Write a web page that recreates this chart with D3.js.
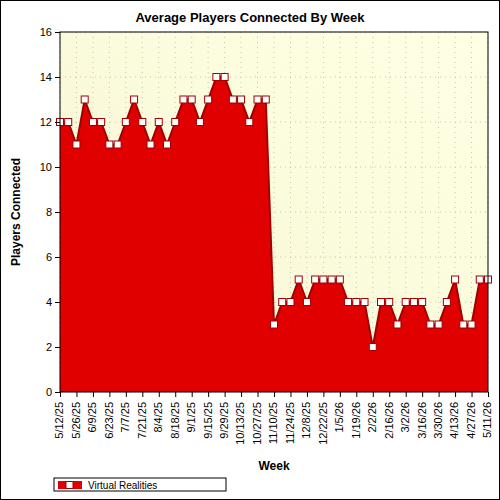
<!DOCTYPE html>
<html><head><meta charset="utf-8"><script src="https://cdn.jsdelivr.net/npm/d3@7"></script>
<style>body{margin:0;background:#fff}</style></head><body>
<script>
const startDate = "2025-05-12";
const values = [12,12,11,13,12,12,11,11,12,13,12,11,12,11,12,13,13,12,13,14,14,13,13,12,13,13,
3,4,4,5,4,5,5,5,5,4,4,4,2,4,4,3,4,4,4,3,3,4,5,3,3,5,5];
const yTicks = [0,2,4,6,8,10,12,14,16];
const seriesName = "Virtual Realities";
const W=500,H=500,m={l:60,r:12,t:32,b:108};
const svg=d3.select("body").append("svg").attr("width",W).attr("height",H).style("font-family","Liberation Sans, Arial, sans-serif");
svg.append("rect").attr("x",0.5).attr("y",0.5).attr("width",W-1).attr("height",H-1).attr("fill","#fff").attr("stroke","#000");
const defs=svg.append("defs");
const g0=defs.append("linearGradient").attr("id","bg").attr("x1","0").attr("y1","1").attr("x2","1").attr("y2","0");
g0.append("stop").attr("offset","0").attr("stop-color","#f6f6d4");
g0.append("stop").attr("offset","1").attr("stop-color","#ffffe4");
const s0=new Date(startDate+"T00:00:00");
const dates=values.map((v,i)=>new Date(s0.getTime()+i*7*864e5));
const x=d3.scaleLinear().domain([0,values.length-1]).range([m.l,W-m.r]);
const y=d3.scaleLinear().domain([0,16]).range([H-m.b,m.t]);
svg.append("rect").attr("x",m.l).attr("y",m.t).attr("width",W-m.l-m.r).attr("height",H-m.t-m.b).attr("fill","url(#bg)");
const grid=svg.append("g").attr("stroke","#c8c8b0").attr("stroke-dasharray","1,4");
yTicks.forEach(t=>grid.append("line").attr("x1",m.l).attr("x2",W-m.r).attr("y1",y(t)).attr("y2",y(t)));
values.forEach((v,i)=>{if(i%2==0)grid.append("line").attr("x1",x(i)).attr("x2",x(i)).attr("y1",m.t).attr("y2",H-m.b);});
svg.append("path").datum(values).attr("fill","#e00000").attr("d",d3.area().x((d,i)=>x(i)).y0(y(0)).y1(d=>y(d)));
svg.append("path").datum(values).attr("fill","none").attr("stroke","#a00000").attr("stroke-width",2).attr("d",d3.line().x((d,i)=>x(i)).y(d=>y(d)));
svg.selectAll(".pt").data(values).enter().append("rect").attr("x",(d,i)=>x(i)-3.5).attr("y",d=>y(d)-3.5).attr("width",7).attr("height",7).attr("fill","#fff").attr("stroke","#a00000");
svg.append("rect").attr("x",m.l).attr("y",m.t).attr("width",W-m.l-m.r).attr("height",H-m.t-m.b).attr("fill","none").attr("stroke","#000");
const ya=svg.append("g").attr("transform",`translate(${m.l},0)`).call(d3.axisLeft(y).tickValues(yTicks).tickSize(5).tickFormat(d3.format("d")));
ya.selectAll("text").attr("font-size",11).attr("fill","#000");
ya.select(".domain").remove();
const fmt=d=>`${d.getMonth()+1}/${d.getDate()}/${String(d.getFullYear()).slice(2)}`;
const xa=svg.append("g").attr("transform",`translate(0,${H-m.b})`).call(d3.axisBottom(x).tickValues(d3.range(0,values.length,2)).tickSize(5).tickFormat(i=>fmt(dates[i])));
xa.select(".domain").remove();
xa.selectAll("text").attr("font-size",11).attr("fill","#000").attr("transform","rotate(-90)").attr("text-anchor","end").attr("dx","-6").attr("dy","-0.1em").attr("y",0).attr("x",-4).style("dominant-baseline","central");
svg.append("text").attr("x",W/2).attr("y",22).attr("text-anchor","middle").attr("font-size",13).attr("font-weight","bold").text("Average Players Connected By Week");
svg.append("text").attr("x",274).attr("y",470).attr("text-anchor","middle").attr("font-size",12).attr("font-weight","bold").text("Week");
svg.append("text").attr("transform",`translate(20,${(m.t+H-m.b)/2}) rotate(-90)`).attr("text-anchor","middle").attr("font-size",12).attr("font-weight","bold").text("Players Connected");
const lg=svg.append("g");
lg.append("rect").attr("x",54).attr("y",478).attr("width",172).attr("height",13).attr("fill","#fff").attr("stroke","#000");
lg.append("rect").attr("x",58).attr("y",481).attr("width",24).attr("height",8).attr("fill","#e00000");
lg.append("rect").attr("x",66).attr("y",481.5).attr("width",7).attr("height",7).attr("fill","#fff").attr("stroke","#a00000");
lg.append("text").attr("x",88).attr("y",489).attr("font-size",10).text(seriesName);
</script></body></html>
